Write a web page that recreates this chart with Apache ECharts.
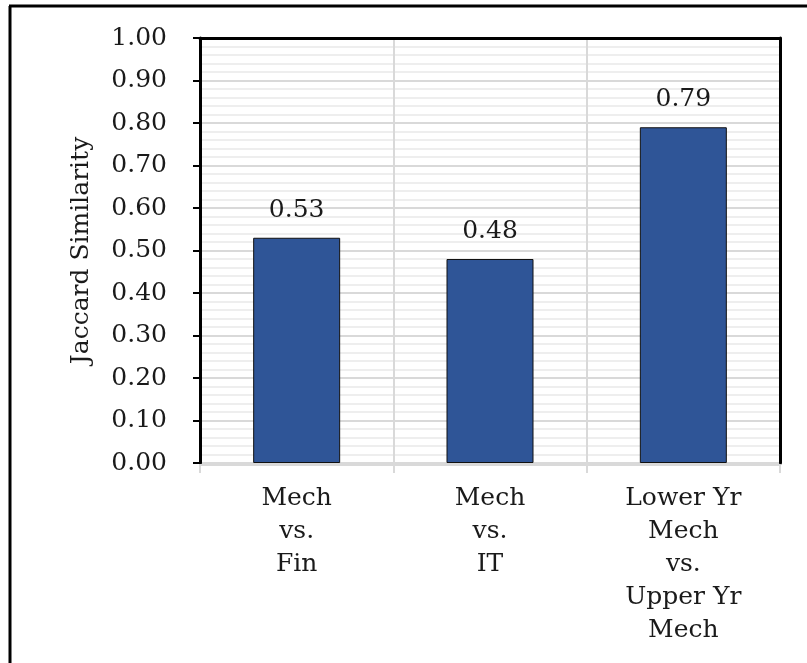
<!DOCTYPE html>
<html>
<head>
<meta charset="utf-8">
<style>
  html, body { margin: 0; padding: 0; background: #fff; }
  #chart { width: 807px; height: 663px; }
</style>
<script src="https://cdn.jsdelivr.net/npm/echarts@6/dist/echarts.min.js"></script>
</head>
<body>
<div id="chart"></div>
<script>
// Pairwise comparisons and their Jaccard similarity scores
const categories = ['Mech\nvs.\nFin', 'Mech\nvs.\nIT', 'Lower Yr\nMech\nvs.\nUpper Yr\nMech'];
const similarity = [0.53, 0.48, 0.79];
const yTicks = { min: 0, max: 1, interval: 0.1 };

const serif = 'DejaVu Serif';
const ink = '#1a1a1a';

const chart = echarts.init(document.getElementById('chart'), null, { renderer: 'canvas' });

chart.setOption({
  backgroundColor: '#fff',
  animation: false,
  graphic: [
    // frame around the figure (top and left edges)
    { type: 'line', shape: { x1: 9, y1: 6, x2: 807, y2: 6 }, style: { stroke: '#000', lineWidth: 3 } },
    { type: 'line', shape: { x1: 10, y1: 6, x2: 10, y2: 663 }, style: { stroke: '#000', lineWidth: 3 } }
  ],
  grid: {
    left: 200, right: 27, top: 38, bottom: 200,
    show: true, borderColor: '#000', borderWidth: 1, backgroundColor: 'transparent'
  },
  xAxis: [
    {
      type: 'category',
      data: categories,
      position: 'bottom',
      offset: 2,
      axisLine: { show: true, onZero: false, lineStyle: { color: '#d9d9d9', width: 2 } },
      axisTick: { show: true, length: 8, lineStyle: { color: '#d9d9d9', width: 2 } },
      splitLine: { show: true, lineStyle: { color: '#d9d9d9', width: 2 } },
      axisLabel: {
        margin: 17, color: ink, fontFamily: serif, fontSize: 25, lineHeight: 33,
        align: 'center', interval: 0
      }
    },
    {
      type: 'category',
      data: categories,
      position: 'top',
      axisLine: { show: true, onZero: false, lineStyle: { color: '#000', width: 3 } },
      axisTick: { show: false },
      axisLabel: { show: false },
      splitLine: { show: false }
    }
  ],
  yAxis: [
    {
      type: 'value',
      min: yTicks.min, max: yTicks.max, interval: yTicks.interval,
      name: 'Jaccard Similarity',
      nameLocation: 'middle',
      nameGap: 106,
      nameRotate: 90,
      nameTextStyle: { color: ink, fontFamily: serif, fontSize: 25 },
      axisLine: { show: true, onZero: false, lineStyle: { color: '#000', width: 3 } },
      axisTick: { show: true, inside: false, length: 7, lineStyle: { color: '#000', width: 2 } },
      axisLabel: {
        margin: 33, color: ink, fontFamily: serif, fontSize: 25,
        formatter: v => v.toFixed(2)
      },
      splitLine: { show: true, lineStyle: { color: '#d9d9d9', width: 2 } },
      minorTick: { show: false, splitNumber: 5 },
      minorSplitLine: { show: true, lineStyle: { color: '#eeeeee', width: 2 } }
    },
    {
      type: 'value',
      position: 'right',
      min: yTicks.min, max: yTicks.max, interval: yTicks.interval,
      axisLine: { show: true, onZero: false, lineStyle: { color: '#000', width: 3 } },
      axisTick: { show: false },
      axisLabel: { show: false },
      splitLine: { show: false }
    }
  ],
  series: [
    {
      type: 'bar',
      data: similarity,
      xAxisIndex: 0,
      yAxisIndex: 0,
      barWidth: '45%',
      itemStyle: { color: '#2f5597', borderColor: '#111', borderWidth: 1 },
      label: {
        show: true, position: 'top', distance: 15,
        color: ink, fontFamily: serif, fontSize: 25,
        formatter: p => p.value.toFixed(2)
      }
    }
  ]
});
</script>
</body>
</html>
